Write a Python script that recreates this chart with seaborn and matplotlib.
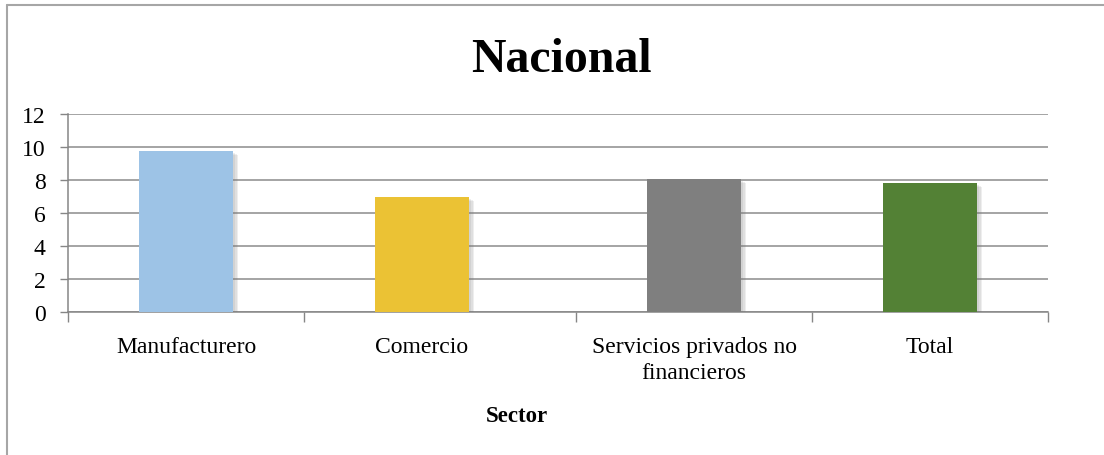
import matplotlib
matplotlib.use("Agg")
import matplotlib.pyplot as plt
import matplotlib.patheffects as pe
from matplotlib.lines import Line2D
import numpy as np
import seaborn as sns
import pandas as pd

categories = ["Manufacturero", "Comercio", "Servicios privados no\nfinancieros", "Total"]
values = [9.75, 6.95, 8.05, 7.8]
colors = ["#9DC3E6", "#EBC234", "#7F7F7F", "#538135"]
yticks = [0, 2, 4, 6, 8, 10, 12]

sns.set_theme(style="white")
plt.rcParams["font.family"] = ["Liberation Serif", "DejaVu Serif"]

df = pd.DataFrame({"Sector": categories, "Valor": values})

fig = plt.figure(figsize=(11.04, 4.56), dpi=100)
fig.patch.set_facecolor("white")
ax = fig.add_axes([68 / 1104, 1 - 313 / 456, 980 / 1104, 198 / 456])

sns.barplot(data=df, x="Sector", y="Valor", hue="Sector", palette=colors,
            width=0.40, legend=False, ax=ax, saturation=1, zorder=3)

# the reference has a slightly wider slot before the third category
gap = 0.153
_xs = [-10.0, 1.45, 1.5, 10.0]
_ys = [-10.0, 1.45, 1.5 + gap, 10.0 + gap]
ax.set_xscale("function", functions=(lambda x: np.interp(x, _xs, _ys),
                                     lambda y: np.interp(y, _ys, _xs)))

shadow = [pe.SimplePatchShadow(offset=(o, -o * 0.8), shadow_rgbFace="#777777", alpha=0.12)
          for o in (3.5, 2.5, 1.5)]
for p in ax.patches:
    p.set_path_effects(shadow + [pe.Normal()])
    p.set_edgecolor("none")

ax.set_ylim(0, 12)
ax.set_xlim(-0.5, 3.5)
ax.set_yticks(yticks)
ax.set_yticklabels([str(v) for v in yticks], fontsize=17, color="black")
ax.set_xticks([0, 1, 2, 3])
ax.set_xticklabels(categories, fontsize=17, color="black", linespacing=1.35)
ax.tick_params(axis="x", length=0, pad=17)
ax.tick_params(axis="y", length=6, width=1, color="#868686", pad=10, left=True, direction="out")

# category boundary ticks
ax.set_xticks([-0.5, 0.5, 1.5, 2.5, 3.5], minor=True)
ax.xaxis.set_minor_formatter(matplotlib.ticker.NullFormatter())
ax.tick_params(axis="x", which="minor", length=7, width=1, color="#868686", bottom=True, direction="out")

ax.yaxis.grid(True, color="#8C8C8C", linewidth=1.1, zorder=0)
ax.set_axisbelow(True)
for s in ["top", "right"]:
    ax.spines[s].set_visible(False)
for s in ["left", "bottom"]:
    ax.spines[s].set_color("#868686")
    ax.spines[s].set_linewidth(1.1)

ax.set_ylabel("")
ax.set_xlabel("Sector", fontsize=16.5, fontweight="bold", color="black")
ax.xaxis.set_label_coords((517 - 68) / 980, -0.47)

fig.text(561 / 1104, 1 - 72 / 456, "Nacional", fontsize=34.5, fontweight="bold",
         ha="center", va="baseline", color="black")

# chart border (top and left visible)
fig.add_artist(Line2D([6.5 / 1104, 1.0], [1 - 5.5 / 456, 1 - 5.5 / 456], transform=fig.transFigure,
                      color="#A6A6A6", linewidth=1.5))
fig.add_artist(Line2D([6.5 / 1104, 6.5 / 1104], [0, 1 - 5.5 / 456], transform=fig.transFigure,
                      color="#A6A6A6", linewidth=1.5))

fig.savefig("out.png", dpi=100, facecolor="white")
